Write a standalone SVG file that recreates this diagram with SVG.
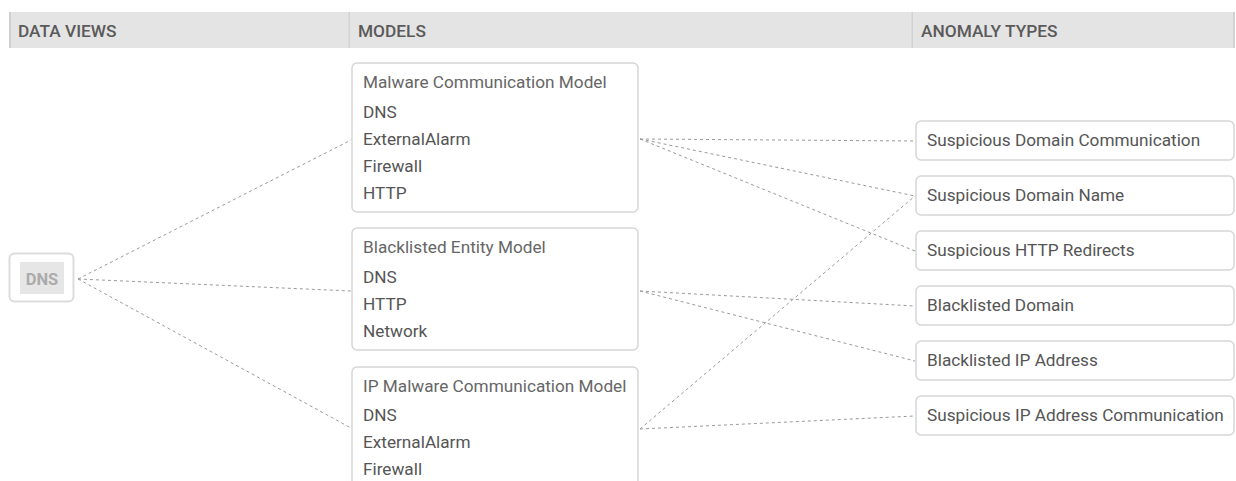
<svg xmlns="http://www.w3.org/2000/svg" width="1236" height="481" viewBox="0 0 1236 481">
  <style>
    .hdr { font-family: Roboto, "Liberation Sans", sans-serif; font-size: 17.3px; font-weight: 500; fill: #5a5a5a; }
    .box { fill: #ffffff; stroke: #d6d6d6; stroke-width: 1.5; }
    .title { font-family: Roboto, "Liberation Sans", sans-serif; font-size: 17.2px; fill: #666666; }
    .item { font-family: Roboto, "Liberation Sans", sans-serif; font-size: 17.2px; fill: #555555; }
    .link { fill: none; stroke: #9a9a9a; stroke-width: 1; stroke-dasharray: 3 3; }
  </style>

  <!-- column header bar -->
  <g id="header">
    <rect x="9" y="12" width="1226" height="36" fill="#e4e4e4"/>
    <rect x="9" y="12" width="2" height="36" fill="#cfcfcf"/>
    <rect x="348.5" y="12" width="1.5" height="36" fill="#d2d2d2"/>
    <rect x="911.5" y="12" width="1.5" height="36" fill="#d2d2d2"/>
    <rect x="1233" y="12" width="2" height="36" fill="#d2d2d2"/>
    <text class="hdr" x="18" y="36.5">DATA VIEWS</text>
    <text class="hdr" x="358" y="36.5">MODELS</text>
    <text class="hdr" x="921" y="36.5">ANOMALY TYPES</text>
  </g>

  <!-- connectors -->
  <g id="connectors">
    <path class="link" d="M78 279 L351 140"/>
    <path class="link" d="M78 279 L351 291"/>
    <path class="link" d="M78 279 L351 428"/>
    <path class="link" d="M640 139 L915 141"/>
    <path class="link" d="M640 139 L915 196"/>
    <path class="link" d="M640 139 L915 251"/>
    <path class="link" d="M640 291 L915 306"/>
    <path class="link" d="M640 291 L915 361"/>
    <path class="link" d="M640 429 L915 196"/>
    <path class="link" d="M640 429 L915 416"/>
  </g>

  <!-- data view -->
  <g id="view-dns">
    <rect x="9.5" y="253.5" width="64" height="48" rx="5" fill="#ffffff" stroke="#dcdcdc" stroke-width="2"/>
    <rect x="20" y="262" width="44" height="32" fill="#e6e6e6"/>
    <text x="42" y="285" text-anchor="middle" font-family="Roboto, 'Liberation Sans', sans-serif" font-size="16.5" font-weight="700" fill="#ababab">DNS</text>
  </g>

  <!-- models -->
  <g id="model-malware">
    <rect class="box" x="352" y="63" width="286" height="149" rx="5"/>
    <text class="title" x="363" y="88">Malware Communication Model</text>
    <text class="item" x="363" y="118">DNS</text>
    <text class="item" x="363" y="145">ExternalAlarm</text>
    <text class="item" x="363" y="172">Firewall</text>
    <text class="item" x="363" y="199">HTTP</text>
  </g>
  <g id="model-blacklisted">
    <rect class="box" x="352" y="228" width="286" height="122" rx="5"/>
    <text class="title" x="363" y="253">Blacklisted Entity Model</text>
    <text class="item" x="363" y="283">DNS</text>
    <text class="item" x="363" y="310">HTTP</text>
    <text class="item" x="363" y="337">Network</text>
  </g>
  <g id="model-ip-malware">
    <rect class="box" x="352" y="367" width="286" height="130" rx="5"/>
    <text class="title" x="363" y="392">IP Malware Communication Model</text>
    <text class="item" x="363" y="421">DNS</text>
    <text class="item" x="363" y="448">ExternalAlarm</text>
    <text class="item" x="363" y="475">Firewall</text>
  </g>

  <!-- anomaly types -->
  <g id="anomaly-domain-comm">
    <rect class="box" x="916" y="121" width="318" height="39" rx="5"/>
    <text class="item" x="927" y="146">Suspicious Domain Communication</text>
  </g>
  <g id="anomaly-domain-name">
    <rect class="box" x="916" y="176" width="318" height="39" rx="5"/>
    <text class="item" x="927" y="201">Suspicious Domain Name</text>
  </g>
  <g id="anomaly-http-redirects">
    <rect class="box" x="916" y="231" width="318" height="39" rx="5"/>
    <text class="item" x="927" y="256">Suspicious HTTP Redirects</text>
  </g>
  <g id="anomaly-blacklisted-domain">
    <rect class="box" x="916" y="286" width="318" height="39" rx="5"/>
    <text class="item" x="927" y="311">Blacklisted Domain</text>
  </g>
  <g id="anomaly-blacklisted-ip">
    <rect class="box" x="916" y="341" width="318" height="39" rx="5"/>
    <text class="item" x="927" y="366">Blacklisted IP Address</text>
  </g>
  <g id="anomaly-ip-comm">
    <rect class="box" x="916" y="396" width="318" height="39" rx="5"/>
    <text class="item" x="927" y="421">Suspicious IP Address Communication</text>
  </g>
</svg>
